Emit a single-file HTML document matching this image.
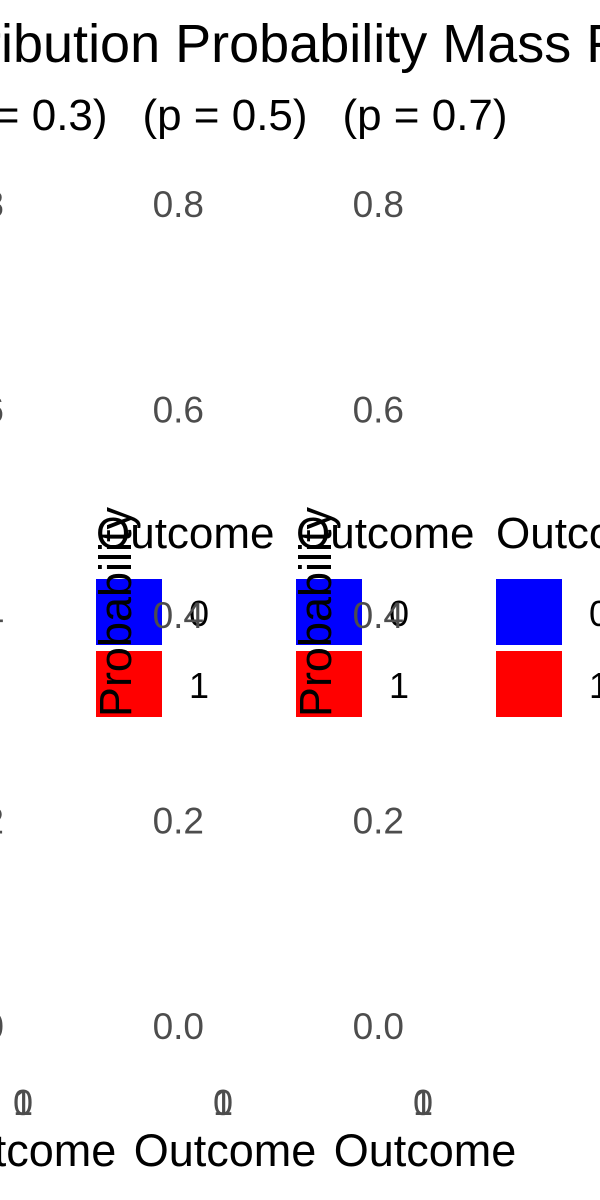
<!DOCTYPE html>
<html><head><meta charset="utf-8"><style>
html,body{margin:0;padding:0;background:#fff;width:600px;height:1200px;overflow:hidden}
svg{display:block;font-family:"Liberation Sans",Arial,sans-serif}
</style></head><body>
<svg id="chart" width="600" height="1200" viewBox="0 0 600 1200" xmlns="http://www.w3.org/2000/svg">
<text x="1" y="62" font-size="54" text-anchor="end" fill="#000">Bernoulli Distr</text>
<text x="1" y="62" font-size="54" fill="#000">ibution Probability Mass Function</text>
<g id="panels"></g>
</svg>
<script>
const pValues = ["0.3", "0.5", "0.7"];
const yTickValues = [0.8, 0.6, 0.4, 0.2, 0.0];
const yTickLabels = ["0.8", "0.6", "0.4", "0.2", "0.0"];
const xCategories = ["0", "1"];
const legendLabels = ["0", "1"];
const legendColors = ["#0000ff", "#ff0000"];

const NS = "http://www.w3.org/2000/svg";
const root = document.getElementById("panels");
function yScale(v) { return 1027 - (v / 0.8) * (1027 - 205); }
function mk(tag, attrs, text) {
  const e = document.createElementNS(NS, tag);
  for (const k in attrs) e.setAttribute(k, attrs[k]);
  if (text !== undefined) e.textContent = text;
  return e;
}
pValues.forEach((p, i) => {
  const dx = -200 + i * 200;
  const g = mk("g", {});
  
  
  const st = mk("text", {x: 225 + dx, y: 130, "font-size": 44, "text-anchor": "middle", fill: "#000"}, "(p = " + p + ")");
  
  
  g.appendChild(st);
  yTickValues.forEach((v, j) => {
    const t = mk("text", {x: 204 + dx, y: yScale(v) + 12, "font-size": 37, "text-anchor": "end", fill: "#4d4d4d"}, yTickLabels[j]);
    
    
    g.appendChild(t);
  });
  xCategories.forEach((c) => {
    const t = mk("text", {x: 223 + dx, y: 1115, "font-size": 36, "text-anchor": "middle", fill: "#4d4d4d"}, c);
    
    
    g.appendChild(t);
  });
  const xt = mk("text", {x: 225 + dx, y: 1166, "font-size": 45, "text-anchor": "middle", fill: "#000"}, "Outcome");
  
  
  g.appendChild(xt);
  const lx = 296 + dx;
  const lt = mk("text", {x: lx, y: 548, "font-size": 44, fill: "#000"}, "Outcome");
  
  
  g.appendChild(lt);
  legendLabels.forEach((l, j) => {
    const r = mk("rect", {x: lx, y: 579 + j * 72, width: 66, height: 66, fill: legendColors[j]});
    
    
    g.appendChild(r);
    const t = mk("text", {x: lx + 103, y: 626 + j * 72, "font-size": 36, "text-anchor": "middle", fill: "#000"}, l);
    
    
    g.appendChild(t);
  });
  if (i > 0) {
    const yx = 131 + dx;
    const yt = mk("text", {x: yx, y: 612, "font-size": 45, "text-anchor": "middle", fill: "#000", transform: "rotate(-90 " + yx + " 612)"}, "Probability");
    
    
    g.appendChild(yt);
  }
  root.appendChild(g);
});
</script>
</body></html>
